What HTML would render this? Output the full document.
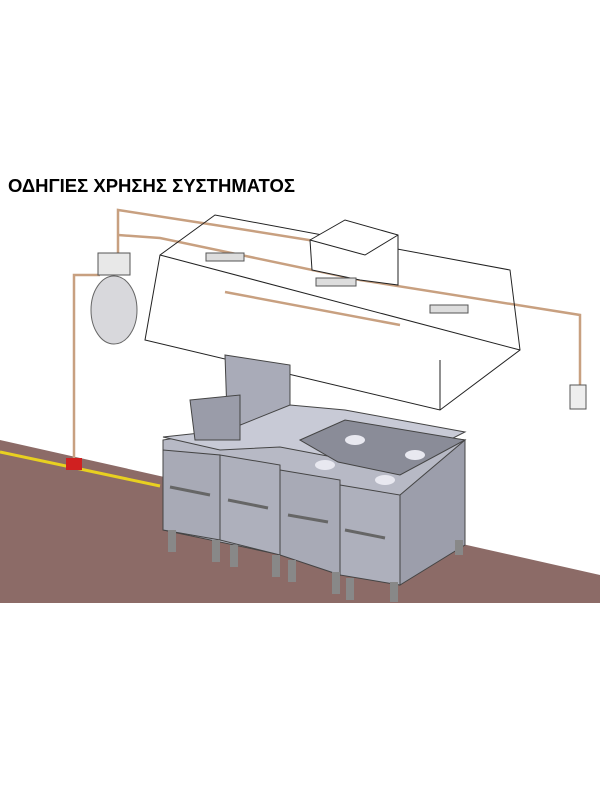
<!DOCTYPE html>
<html><head><meta charset="utf-8"><style>body{margin:0;background:#fff}svg{display:block}</style></head><body>
<svg width="600" height="800" viewBox="0 0 600 800" xmlns="http://www.w3.org/2000/svg">
<rect width="600" height="800" fill="#fff"/>
<polygon points="0,440 600,575 600,603 0,603" fill="#8c6b67"/>
<polyline points="0,452 160,486" stroke="#e8d020" stroke-width="3" fill="none"/>
<text x="8" y="192" font-family="Liberation Sans, sans-serif" font-weight="bold" font-size="18.5" textLength="287">ΟΔΗΓΙΕΣ ΧΡΗΣΗΣ ΣΥΣΤΗΜΑΤΟΣ</text>
<g stroke="#c8a080" stroke-width="2.5" fill="none">
<polyline points="74,460 74,275 100,275"/>
<polyline points="118,255 118,210 215,225 340,245"/>
<polyline points="118,235 160,238 360,280 580,315 580,385"/>
<polyline points="225,292 400,325"/>
</g>
<g stroke="#222" stroke-width="1" fill="none">
<polygon points="145,340 160,255 215,215 510,270 520,350 440,410 145,340"/>
<polyline points="160,255 520,350"/>
<polyline points="440,410 440,360"/>
<polygon points="310,240 345,220 398,235 398,285 360,280 312,270" fill="#fff"/>
<polyline points="310,240 365,255 398,235 M365,255 365,280"/>
</g>
<rect x="206" y="253" width="38" height="8" fill="#ddd" stroke="#555"/>
<rect x="316" y="278" width="40" height="8" fill="#ddd" stroke="#555"/>
<rect x="430" y="305" width="38" height="8" fill="#ddd" stroke="#555"/>
<rect x="98" y="253" width="32" height="22" fill="#e8e8e8" stroke="#555"/>
<ellipse cx="114" cy="310" rx="23" ry="34" fill="#d8d8dc" stroke="#666"/>
<rect x="66" y="458" width="16" height="12" fill="#d02020"/>
<rect x="570" y="385" width="16" height="24" fill="#eee" stroke="#555"/>
<g stroke="#444" stroke-width="1">
<polygon points="163,440 290,420 465,440 465,545 400,580 163,530" fill="#b7b9c5"/>
<polygon points="225,355 290,365 290,440 228,445" fill="#a9abb8"/>
<polygon points="163,437 228,430 290,405 345,410 465,432 400,465 338,458 280,447 220,450" fill="#c8cad6"/>
<polygon points="190,400 240,395 240,440 195,440" fill="#9a9ca9"/>
<polygon points="300,440 345,420 465,440 400,475 338,462" fill="#8a8c98"/>
<polygon points="163,450 220,455 220,540 163,530" fill="#a8aab6"/>
<polygon points="220,455 280,465 280,555 220,540" fill="#aeb0bc"/>
<polygon points="280,470 340,480 340,575 280,555" fill="#a8aab6"/>
<polygon points="340,485 400,495 400,585 340,575" fill="#aeb0bc"/>
<polygon points="400,495 465,440 465,545 400,585" fill="#9c9eab"/>
</g>
<g fill="#e8e8f0"><ellipse cx="355" cy="440" rx="10" ry="5"/><ellipse cx="325" cy="465" rx="10" ry="5"/><ellipse cx="415" cy="455" rx="10" ry="5"/><ellipse cx="385" cy="480" rx="10" ry="5"/></g>
<g stroke="#666" stroke-width="3" fill="none"><line x1="170" y1="487" x2="210" y2="495"/><line x1="228" y1="500" x2="268" y2="508"/><line x1="288" y1="515" x2="328" y2="522"/><line x1="345" y1="530" x2="385" y2="538"/></g>
<g fill="#888">
<rect x="168" y="530" width="8" height="22"/><rect x="212" y="540" width="8" height="22"/><rect x="230" y="545" width="8" height="22"/><rect x="272" y="555" width="8" height="22"/><rect x="288" y="560" width="8" height="22"/><rect x="332" y="572" width="8" height="22"/><rect x="346" y="578" width="8" height="22"/><rect x="390" y="582" width="8" height="20"/><rect x="455" y="540" width="8" height="15"/>
</g>
</svg>
</body></html>
